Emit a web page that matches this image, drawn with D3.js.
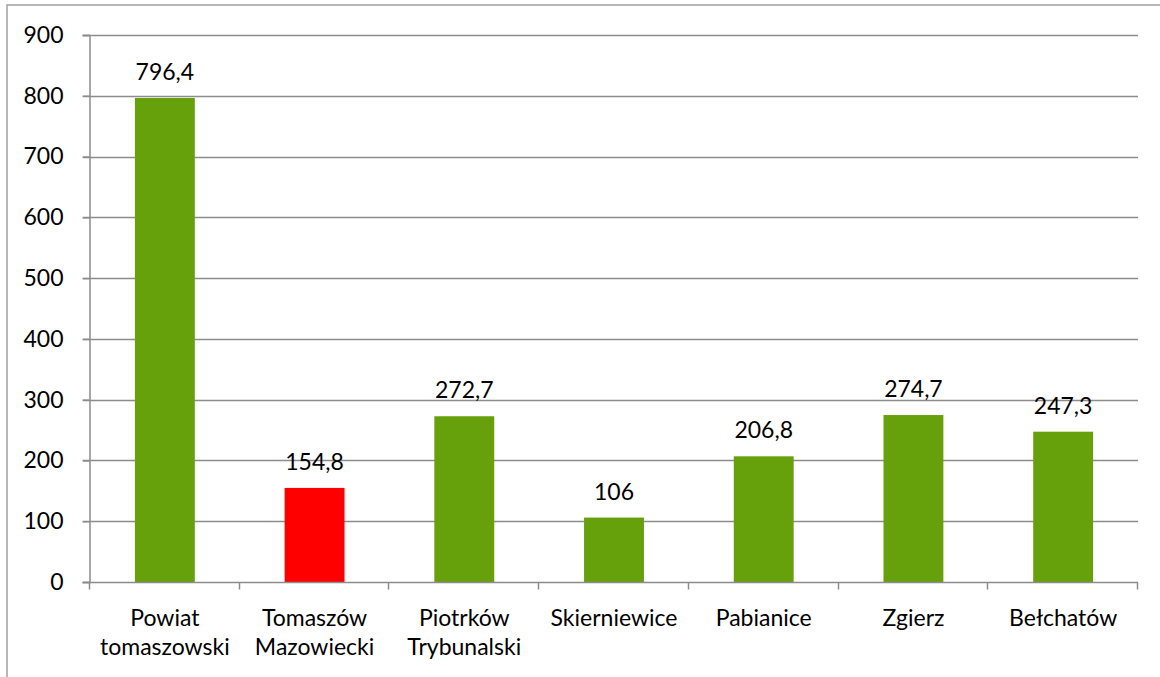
<!DOCTYPE html>
<html>
<head>
<meta charset="utf-8">
<script src="https://cdn.jsdelivr.net/npm/d3@7"></script>
<style>
  body { margin: 0; background: #fff; }
  svg { display: block; font-family: Lato, "Open Sans", sans-serif; }
</style>
</head>
<body>
<svg id="chart"></svg>
<script>
var width = 1160,
    height = 677,
    fontSize = 23;

// data
var categories = [
  ["Powiat", "tomaszowski"],
  ["Tomaszów", "Mazowiecki"],
  ["Piotrków", "Trybunalski"],
  ["Skierniewice"],
  ["Pabianice"],
  ["Zgierz"],
  ["Bełchatów"]
];
var values = [796.4, 154.8, 272.7, 106, 206.8, 274.7, 247.3];
var valueLabels = ["796,4", "154,8", "272,7", "106", "206,8", "274,7", "247,3"];
var highlight = [false, true, false, false, false, false, false];
var yTicks = [0, 100, 200, 300, 400, 500, 600, 700, 800, 900];

var margin = {left: 90, right: 22, top: 35, bottom: 95};

var svg = d3.select("#chart").attr("width", width).attr("height", height);

// outer frame
svg.append("rect")
  .attr("x", 7).attr("y", 5)
  .attr("width", width + 20).attr("height", height + 20)
  .attr("fill", "none")
  .attr("stroke", "#a0a0a0")
  .attr("stroke-width", 1.5);

var x = d3.scaleBand()
  .domain(d3.range(categories.length))
  .range([margin.left, width - margin.right])
  .paddingInner(0.6)
  .paddingOuter(0.3);

var xAxisScale = d3.scaleBand()
  .domain(d3.range(categories.length))
  .range([margin.left, width - margin.right]);

var y = d3.scaleLinear()
  .domain([0, 900])
  .range([height - margin.bottom, margin.top]);

// gridlines
svg.append("g")
  .selectAll("line")
  .data(yTicks.slice(1))
  .enter()
  .append("line")
  .attr("x1", margin.left - 7)
  .attr("x2", width - margin.right)
  .attr("y1", function(d) { return Math.round(y(d)) + 0.5; })
  .attr("y2", function(d) { return Math.round(y(d)) + 0.5; })
  .attr("stroke", "#8c8c8c")
  .attr("stroke-width", 1.5);

// y axis
var yAxis = svg.append("g")
  .attr("transform", "translate(" + (margin.left - 0.5) + ",0)")
  .call(d3.axisLeft(y).tickValues(yTicks).tickSize(7).tickPadding(19).tickFormat(d3.format("d")));
yAxis.select(".domain").attr("stroke", "#8c8c8c").attr("stroke-width", 1.5);
yAxis.selectAll(".tick line").attr("stroke", "#8c8c8c").attr("stroke-width", 1.5);
yAxis.selectAll(".tick text")
  .attr("font-size", fontSize)
  .attr("font-family", "Lato, sans-serif")
  .attr("fill", "#000");

// bars
svg.append("g")
  .selectAll("rect")
  .data(values)
  .enter()
  .append("rect")
  .attr("x", function(d, i) { return x(i); })
  .attr("width", x.bandwidth())
  .attr("y", function(d) { return y(d); })
  .attr("height", function(d) { return y(0) - y(d); })
  .attr("fill", function(d, i) { return highlight[i] ? "#ff0000" : "#66a00b"; });

// value labels
svg.append("g")
  .selectAll("text")
  .data(values)
  .enter()
  .append("text")
  .attr("x", function(d, i) { return x(i) + x.bandwidth() / 2; })
  .attr("y", function(d) { return y(d) - 18; })
  .attr("text-anchor", "middle")
  .attr("font-size", fontSize)
  .attr("fill", "#000")
  .text(function(d, i) { return valueLabels[i]; });

// x axis
var y0 = Math.round(y(0)) + 0.5;
var xg = svg.append("g");
xg.append("line")
  .attr("x1", margin.left - 7).attr("x2", width - margin.right)
  .attr("y1", y0).attr("y2", y0)
  .attr("stroke", "#8c8c8c").attr("stroke-width", 1.5);
var edges = d3.range(categories.length + 1).map(function(i) {
  return margin.left + i * xAxisScale.step();
});
xg.selectAll(".tk")
  .data(edges)
  .enter()
  .append("line")
  .attr("x1", function(d) { return Math.round(d) - 0.5; })
  .attr("x2", function(d) { return Math.round(d) - 0.5; })
  .attr("y1", y0).attr("y2", y0 + 7)
  .attr("stroke", "#8c8c8c").attr("stroke-width", 1.5);

var labels = xg.selectAll(".lbl")
  .data(categories)
  .enter()
  .append("text")
  .attr("text-anchor", "middle")
  .attr("font-size", fontSize)
  .attr("fill", "#000")
  .attr("transform", function(d, i) {
    return "translate(" + (xAxisScale(i) + xAxisScale.bandwidth() / 2) + "," + (y0 + 43) + ")";
  });
labels.selectAll("tspan")
  .data(function(d) { return d; })
  .enter()
  .append("tspan")
  .attr("x", 0)
  .attr("dy", function(d, i) { return i === 0 ? 0 : 29; })
  .text(function(d) { return d; });
</script>
</body>
</html>
